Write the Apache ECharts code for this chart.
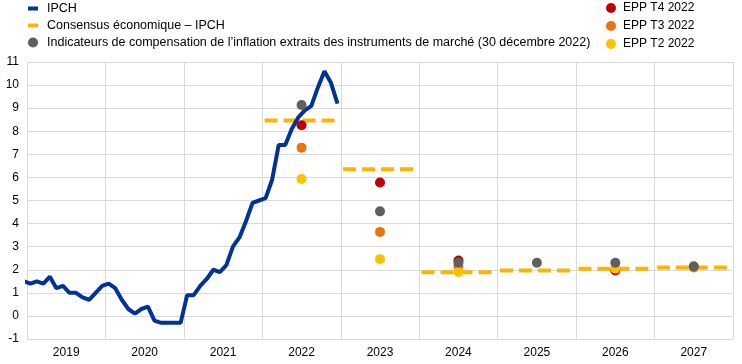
<!DOCTYPE html>
<html>
<head>
<meta charset="utf-8">
<script src="https://cdn.jsdelivr.net/npm/echarts@6/dist/echarts.min.js"></script>
<style>html,body{margin:0;padding:0;background:#fff}#c{width:742px;height:364px}</style>
</head>
<body>
<div id="c"></div>
<script>
// Axis categories
var yearLabels = ['2019','2020','2021','2022','2023','2024','2025','2026','2027'];
// Monthly HICP (IPCH), December 2018 to December 2022
var ipchMonths = ['2018-12',
 '2019-01','2019-02','2019-03','2019-04','2019-05','2019-06','2019-07','2019-08','2019-09','2019-10','2019-11','2019-12',
 '2020-01','2020-02','2020-03','2020-04','2020-05','2020-06','2020-07','2020-08','2020-09','2020-10','2020-11','2020-12',
 '2021-01','2021-02','2021-03','2021-04','2021-05','2021-06','2021-07','2021-08','2021-09','2021-10','2021-11','2021-12',
 '2022-01','2022-02','2022-03','2022-04','2022-05','2022-06','2022-07','2022-08','2022-09','2022-10','2022-11','2022-12'];
var ipchValues = [1.5,
 1.4,1.5,1.4,1.7,1.2,1.3,1.0,1.0,0.8,0.7,1.0,1.3,
 1.4,1.2,0.7,0.3,0.1,0.3,0.4,-0.2,-0.3,-0.3,-0.3,-0.3,
 0.9,0.9,1.3,1.6,2.0,1.9,2.2,3.0,3.4,4.1,4.9,5.0,
 5.1,5.9,7.4,7.4,8.1,8.6,8.9,9.1,9.9,10.6,10.1,9.2];
// Annual projections
var projYears = ['2022','2023','2024','2025','2026','2027'];
var consensus = [8.47, 6.35, 1.89, 1.97, 2.04, 2.10];
var marketIndicators = [9.14, 4.53, 2.30, 2.30, 2.30, 2.15];
var sppT4 = [8.26, 5.78, 2.40, null, 1.97, null];
var sppT3 = [7.29, 3.64, 2.15, null, null, 2.10];
var sppT2 = [5.93, 2.46, 1.90, null, 2.05, null];
var yTicks = {min: -1, max: 11, interval: 1};

var names = {
  ipch: 'IPCH',
  cons: 'Consensus économique – IPCH',
  mkt: 'Indicateurs de compensation de l\u2019inflation extraits des instruments de marché (30 décembre 2022)',
  t4: 'EPP T4 2022', t3: 'EPP T3 2022', t2: 'EPP T2 2022'
};

function monthPos(ym) {
  var p = ym.split('-');
  return (parseInt(p[0]) - 2019) * 12 + (parseInt(p[1]) - 1) + 0.5;
}
function yearStart(y) { return (parseInt(y) - 2019) * 12; }

var ipchData = ipchMonths.map(function (m, i) { return [monthPos(m), ipchValues[i]]; });
var consData = [];
projYears.forEach(function (y, i) {
  consData.push([yearStart(y) + 0.35, consensus[i]]);
  consData.push([yearStart(y) + 11.45, consensus[i]]);
  consData.push([yearStart(y) + 11.7, '-']);
});
function dots(arr) {
  var out = [];
  projYears.forEach(function (y, i) { if (arr[i] !== null) out.push([yearStart(y) + 6, arr[i]]); });
  return out;
}

var font = 'Liberation Sans, Arial, sans-serif';
var lineIcon = 'path://M0,0L0,0M0,3L10,3L10,7L0,7Z M10,10L10,10';
var chart = echarts.init(document.getElementById('c'), null, {renderer: 'canvas'});
chart.setOption({
  animation: false,
  textStyle: {fontFamily: font},
  grid: {left: 27, right: 9, top: 62, bottom: 25, containLabel: false},
  legend: [{
    orient: 'vertical', left: 23, top: -3, itemWidth: 10, itemHeight: 10, itemGap: 4,
    textStyle: {fontSize: 12.5, color: '#000', fontFamily: font, padding: [0,0,0,4]},
    data: [{name: names.ipch, icon: lineIcon}, {name: names.cons, icon: lineIcon}, {name: names.mkt, icon: 'circle'}]
  }, {
    orient: 'vertical', left: 601, top: -3, itemWidth: 10, itemHeight: 10, itemGap: 6,
    textStyle: {fontSize: 12, color: '#000', fontFamily: font, padding: [0,0,0,2]},
    data: [{name: names.t4, icon: 'circle'}, {name: names.t3, icon: 'circle'}, {name: names.t2, icon: 'circle'}]
  }],
  xAxis: [{
    type: 'value', min: 0, max: 108, interval: 12,
    axisLine: {show: false}, axisTick: {show: false}, axisLabel: {show: false},
    splitLine: {show: true, lineStyle: {color: '#d9d9d9', width: 1}}
  }, {
    type: 'category', data: yearLabels, boundaryGap: true, position: 'bottom',
    axisLine: {show: false}, axisTick: {show: false}, splitLine: {show: false},
    axisLabel: {color: '#000', fontSize: 12, margin: 8, fontFamily: font}
  }],
  yAxis: {
    type: 'value', min: yTicks.min, max: yTicks.max, interval: yTicks.interval,
    axisLine: {show: false}, axisTick: {show: false},
    axisLabel: {color: '#000', fontSize: 12, margin: 8, fontFamily: font},
    splitLine: {lineStyle: {color: '#d9d9d9', width: 1}}
  },
  series: [{
    name: names.ipch, type: 'line', xAxisIndex: 0, data: ipchData, showSymbol: false, symbol: 'none',
    lineStyle: {color: '#003299', width: 4}, itemStyle: {color: '#003299'}, clip: true, z: 3
  }, {
    name: names.cons, type: 'line', xAxisIndex: 0, data: consData, showSymbol: false, symbol: 'none', connectNulls: false,
    lineStyle: {color: '#ffb400', width: 4, type: [13, 6]}, itemStyle: {color: '#ffb400'}, z: 2
  }, {
    name: names.t4, type: 'scatter', xAxisIndex: 0, data: dots(sppT4), symbolSize: 10,
    itemStyle: {color: '#c00000', opacity: 1}, z: 4
  }, {
    name: names.t3, type: 'scatter', xAxisIndex: 0, data: dots(sppT3), symbolSize: 10,
    itemStyle: {color: '#e8730f', opacity: 1}, z: 5
  }, {
    name: names.t2, type: 'scatter', xAxisIndex: 0, data: dots(sppT2), symbolSize: 10,
    itemStyle: {color: '#ffc000', opacity: 1}, z: 6
  }, {
    name: names.mkt, type: 'scatter', xAxisIndex: 0, data: dots(marketIndicators), symbolSize: 10,
    itemStyle: {color: '#5f5f5f', opacity: 1}, z: 7
  }]
});
</script>
</body>
</html>
